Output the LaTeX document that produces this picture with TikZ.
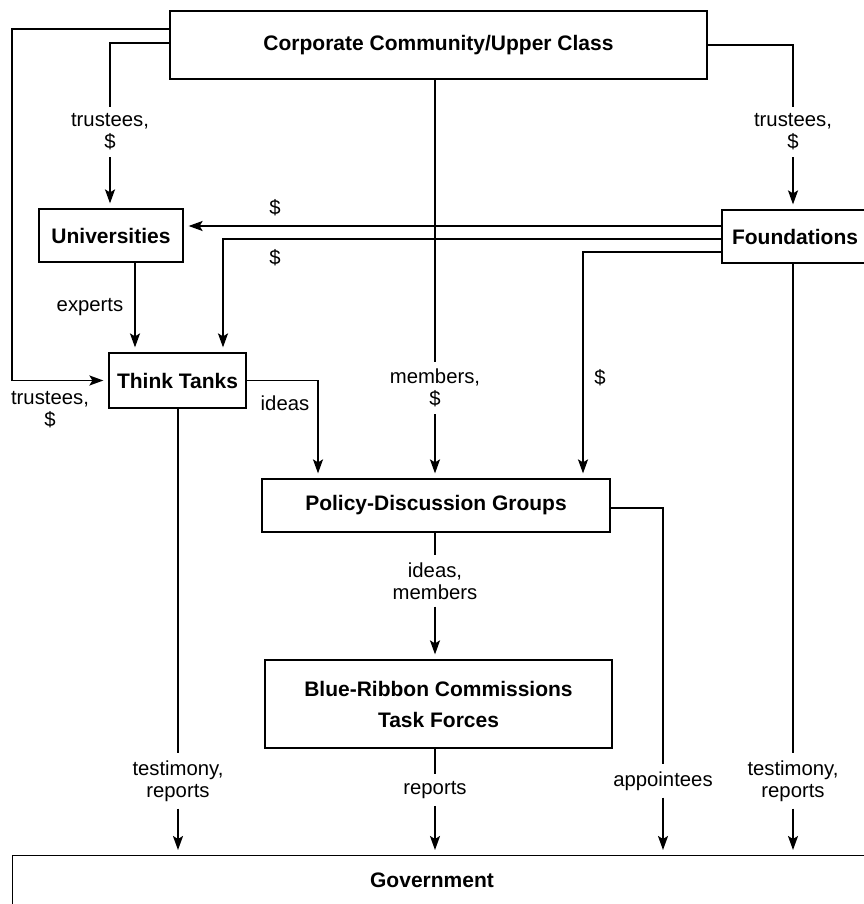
\documentclass[tikz,border=0pt]{standalone}
\usepackage{fontspec}
\setmainfont{Liberation Sans}
\usetikzlibrary{arrows.meta,calc}
\begin{document}
\begin{tikzpicture}[x=1pt,y=-1pt,
  box/.style={draw, line width=1.2pt, font=\fontsize{21}{31}\selectfont\bfseries, inner sep=0pt, align=center},
  conn/.style={line width=1.8pt},
  arr/.style={conn, -{Stealth[length=14pt,width=10pt,inset=3pt]}, shorten >=5pt},
  lbl/.style={font=\fontsize{20.3}{22}\selectfont, align=center, inner xsep=2pt, inner ysep=7pt},
  side/.style={font=\fontsize{20.3}{22}\selectfont, align=center, inner sep=0pt}]
\useasboundingbox (0,0) rectangle (863,904);

% boxes
\node[box, minimum width=537pt, minimum height=68pt] (corp) at (438.5,45) {Corporate Community/Upper Class};
\node[box, minimum width=144pt, minimum height=53pt] (univ) at (111,235.5) {Universities};
\node[box, minimum width=146pt, minimum height=53pt] (found) at (795,236.5) {Foundations};
\node[box, minimum width=137pt, minimum height=55pt] (tt) at (177.5,380.5) {Think Tanks};
\node[box, minimum width=348pt, minimum height=53pt] (pdg) at (436,505.5) {Policy-Discussion Groups};
\node[box, minimum width=347pt, minimum height=88pt] (brc) at (438.5,704) {Blue-Ribbon Commissions\\Task Forces};
\node[box, anchor=north west, minimum width=880pt, minimum height=80pt] (gov) at (12,855) {};
\node[box, draw=none] (govt) at (432,880) {Government};

% label nodes that break connectors
\node[lbl] (L1) at (110,132) {trustees,\\\$};
\node[lbl] (L2) at (793,132) {trustees,\\\$};
\node[lbl] (L3) at (435,388) {members,\\\$};
\node[lbl] (L4) at (435,581) {ideas,\\members};
\node[lbl] (L5) at (178,781) {testimony,\\reports};
\node[lbl] (L6) at (435,790) {reports};
\node[lbl] (L7) at (663,781) {appointees};
\node[lbl] (L8) at (793,781) {testimony,\\reports};

% side labels
\node[side] (s1) at (275,208) {\$};
\node[side] (s2) at (275,258) {\$};
\node[side] (s3) at (600,378) {\$};
\node[side] (s4) at (90,307) {experts};
\node[side] (s5) at (285,403) {ideas};
\node[side] (s6) at (50,410) {trustees,\\\$};

% helper coordinates
\coordinate (k1) at (12,29);
\coordinate (k2) at (110,43);
\coordinate (k3) at (793,45);
\coordinate (k4) at (435,0);
\coordinate (k5) at (0,226);
\coordinate (k6) at (223,239);
\coordinate (k7) at (583,252);
\coordinate (k8) at (135,0);
\coordinate (k9) at (318,0);
\coordinate (k10) at (663,508);
\coordinate (k11) at (178,0);

% corporate -> think tanks (outer left)
\draw[arr] (corp.west |- k1) -- (k1) |- (tt.west);
% corporate -> universities
\draw[conn] (corp.west |- k2) -- (k2) -- (k2 |- L1.north);
\draw[arr] (k2 |- L1.south) -- (k2 |- univ.north);
% corporate -> foundations
\draw[conn] (corp.east |- k3) -- (k3) -- (k3 |- L2.north);
\draw[arr] (k3 |- L2.south) -- (k3 |- found.north);
% corporate -> policy
\draw[conn] (k4 |- corp.south) -- (k4 |- L3.north);
\draw[arr] (k4 |- L3.south) -- (k4 |- pdg.north);
% foundations -> universities
\draw[arr] (found.west |- k5) -- (univ.east |- k5);
% foundations -> think tanks
\draw[arr] (found.west |- k6) -- (k6) -- (k6 |- tt.north);
% foundations -> policy
\draw[arr] (found.west |- k7) -- (k7) -- (k7 |- pdg.north);
% universities -> think tanks
\draw[arr] (k8 |- univ.south) -- (k8 |- tt.north);
% think tanks -> policy
\draw[arr] (tt.east) -| (k9 |- pdg.north);
% think tanks -> government
\draw[conn] (k11 |- tt.south) -- (k11 |- L5.north);
\draw[arr] (k11 |- L5.south) -- (k11 |- gov.north);
% policy -> blue ribbon
\draw[conn] (k4 |- pdg.south) -- (k4 |- L4.north);
\draw[arr] (k4 |- L4.south) -- (k4 |- brc.north);
% blue ribbon -> government
\draw[conn] (k4 |- brc.south) -- (k4 |- L6.north);
\draw[arr] (k4 |- L6.south) -- (k4 |- gov.north);
% policy -> government (appointees)
\draw[conn] (pdg.east |- k10) -- (k10) -- (k10 |- L7.north);
\draw[arr] (k10 |- L7.south) -- (k10 |- gov.north);
% foundations -> government
\draw[conn] (k3 |- found.south) -- (k3 |- L8.north);
\draw[arr] (k3 |- L8.south) -- (k3 |- gov.north);
\end{tikzpicture}
\end{document}
